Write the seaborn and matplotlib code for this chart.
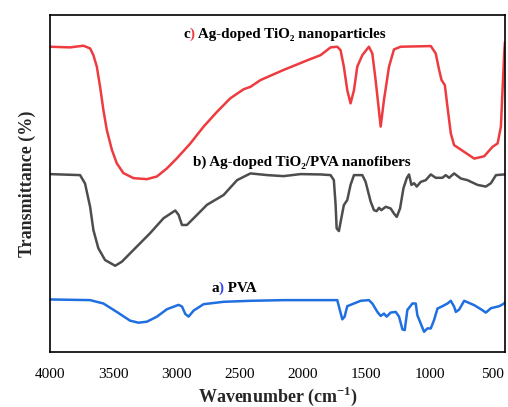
import numpy as np
import pandas as pd
import matplotlib
matplotlib.use("Agg")
import matplotlib.pyplot as plt
import seaborn as sns

# FTIR spectra: wavenumber (cm^-1) and offset transmittance (arbitrary units)
wn_tio2 = [4000, 3842, 3736, 3683, 3657, 3630, 3604, 3578, 3551, 3511, 3472, 3420,
           3340, 3234, 3155, 3076, 2997, 2891, 2786, 2680, 2575, 2469, 2416, 2337,
           2155, 1965, 1862, 1783, 1730, 1704, 1678, 1651, 1625, 1598, 1572, 1532,
           1480, 1453, 1427, 1387, 1361, 1321, 1282, 1229, 991, 952, 925, 906, 880,
           859, 833, 807, 727, 648, 569, 503, 463, 437, 411, 405]
t_tio2 = [90.6, 90.4, 90.9, 90.1, 88.1, 84.7, 78.7, 71.8, 65.9, 60.0, 56.0, 53.1,
          51.6, 51.3, 52.1, 54.5, 57.5, 61.9, 66.9, 71.3, 75.3, 78.0, 78.7, 80.7,
          83.7, 86.6, 88.1, 90.4, 90.6, 89.6, 84.7, 77.7, 73.8, 77.7, 84.7, 88.1,
          90.6, 88.6, 80.7, 66.9, 74.8, 84.7, 89.8, 90.6, 90.8, 88.6, 83.7, 80.7,
          79.2, 72.7, 64.9, 61.4, 59.4, 57.4, 58.1, 60.9, 61.9, 66.9, 88.6, 92.0]

wn_fib = [4000, 3762, 3723, 3683, 3657, 3618, 3565, 3485, 3432, 3340, 3208, 3103,
          3010, 2984, 2957, 2918, 2865, 2759, 2628, 2522, 2416, 2282, 2155, 2020,
          1862, 1783, 1757, 1743, 1735, 1717, 1698, 1678, 1651, 1625, 1598, 1532,
          1506, 1466, 1440, 1419, 1400, 1382, 1347, 1308, 1282, 1260, 1234, 1207,
          1181, 1163, 1144, 1123, 1102, 1070, 1031, 991, 952, 899, 873, 846, 807,
          754, 701, 622, 556, 516, 476, 411, 405]
t_fib = [52.8, 52.5, 50.0, 43.1, 36.2, 30.8, 27.3, 25.6, 26.8, 30.3, 35.3, 39.7,
         42.0, 40.7, 37.7, 37.7, 39.7, 43.7, 46.6, 51.0, 53.0, 52.5, 52.2, 52.8,
         52.7, 52.5, 51.0, 43.6, 36.7, 35.9, 39.7, 43.6, 45.1, 49.6, 52.5, 52.5,
         50.5, 44.6, 42.1, 41.8, 42.8, 42.1, 43.1, 42.6, 41.1, 40.1, 42.6, 48.6,
         51.6, 52.7, 49.6, 50.1, 49.1, 50.5, 51.0, 52.7, 51.7, 51.7, 52.5, 51.7,
         53.0, 51.5, 51.0, 49.6, 49.1, 50.1, 52.5, 52.7, 52.7]

wn_pva = [4000, 3683, 3578, 3472, 3367, 3301, 3234, 3155, 3076, 2984, 2957, 2931,
          2905, 2865, 2786, 2628, 2416, 2153, 1730, 1710, 1690, 1672, 1651, 1598,
          1545, 1480, 1453, 1413, 1387, 1361, 1340, 1308, 1268, 1242, 1215, 1197,
          1176, 1136, 1110, 1097, 1071, 1044, 1018, 991, 965, 938, 899, 859, 833,
          807, 793, 767, 727, 648, 595, 556, 516, 450, 411, 405]
t_pva = [15.6, 15.4, 14.4, 11.9, 9.3, 8.7, 9.0, 10.5, 12.7, 14.0, 13.5, 11.3,
         10.5, 12.3, 14.2, 14.9, 15.2, 15.4, 15.4, 12.5, 9.7, 10.5, 13.6, 14.4,
         15.2, 15.4, 14.4, 11.9, 10.7, 11.4, 10.5, 11.7, 11.9, 10.5, 6.7, 6.5,
         12.5, 14.4, 14.4, 10.9, 8.5, 6.0, 7.0, 7.0, 9.5, 12.9, 13.6, 14.4, 15.2,
         13.5, 11.9, 12.6, 15.2, 13.9, 12.7, 11.7, 13.0, 13.6, 14.4, 14.8]

RED, GREY, BLUE = "#ee3b3f", "#4d4d4d", "#1f6fe0"

series = {
    "a": (wn_pva, t_pva, BLUE),
    "b": (wn_fib, t_fib, GREY),
    "c": (wn_tio2, t_tio2, RED),
}

df = pd.concat(
    [pd.DataFrame({"wn": w, "T": t, "sample": k}) for k, (w, t, _) in series.items()],
    ignore_index=True,
)

sns.set_style("white")
plt.rcParams["font.family"] = ["Liberation Serif", "DejaVu Serif"]
plt.rcParams["mathtext.fontset"] = "custom"
plt.rcParams["mathtext.rm"] = "Liberation Serif:bold"
plt.rcParams["mathtext.bf"] = "Liberation Serif:bold"

fig = plt.figure(figsize=(5.08, 4.07), dpi=100)
ax = fig.add_axes([0.0984, 0.1351, 0.8956, 0.8279])

sns.lineplot(data=df, x="wn", y="T", hue="sample",
             palette={k: v[2] for k, v in series.items()}, sort=False,
             estimator=None, linewidth=1.8, legend=False, ax=ax)
for ln in ax.lines:
    ln.set_solid_joinstyle("round")
    ln.set_solid_capstyle("round")

ax.set_xlim(4000, 405)
ax.set_ylim(0, 100)
ax.set_xticks([4000, 3500, 3000, 2500, 2000, 1500, 1000, 500])
ax.set_xticks(np.arange(4000, 400, -250), minor=True)
ax.set_yticks([])
ax.tick_params(axis="x", which="major", direction="in", length=4, width=1,
               labelsize=11, pad=11.5, colors="black")
ax.tick_params(axis="x", which="minor", direction="in", length=3, width=1)
for s in ax.spines.values():
    s.set_color("black")
    s.set_linewidth(1.2)

ax.set_xlabel(r"Wavenumber (cm$^{-1}$)", fontsize=13, fontweight="bold", labelpad=3)
ax.set_ylabel("Transmittance (%)", fontsize=13, fontweight="bold", labelpad=10)


def label(x, y, parts):
    # pieces of one caption laid end to end, each in its own colour
    kw = dict(fontsize=10.9, fontweight="bold", ha="left")
    (txt, col), rest = parts[0], parts[1:]
    t = ax.text(x, y, txt, color=col, va="baseline", **kw)
    for txt, col in rest:
        t = ax.annotate(txt, xy=(1, 0), xycoords=t, va="bottom", color=col, **kw)


label(2947, 93.2, [("c", "black"), (")", RED), (" Ag-doped TiO\u2082 nanoparticles", "black")])
label(2868, 55.2, [("b) Ag-doped TiO\u2082/PVA nanofibers", "black")])
label(2725, 17.8, [("a", "black"), (")", "#3344ee"), (" PVA", "black")])

fig.savefig("out.png", dpi=100)
